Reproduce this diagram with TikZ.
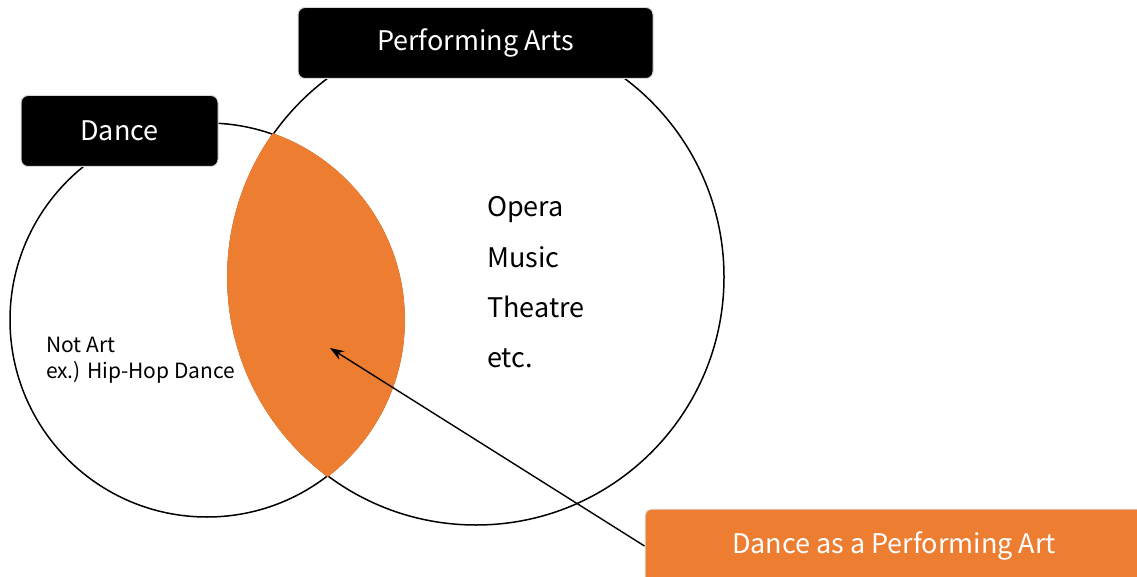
\documentclass[tikz,border=0pt]{standalone}
\usepackage{fontspec}
\setmainfont{Noto Sans CJK KR}
\usetikzlibrary{arrows.meta}
\definecolor{accent}{HTML}{ED7D31}
\begin{document}
\begin{tikzpicture}[x=1pt,y=-1pt,
  ring/.style={draw=black,line width=1.5pt},
  label box/.style={fill=black,draw=black!15,line width=1pt,rounded corners=7pt,
    text=white,font=\fontsize{27}{32}\selectfont,inner sep=0pt},
  plain/.style={font=\fontsize{21}{25}\selectfont,inner sep=0pt,anchor=base west},
  listtext/.style={font=\fontsize{27}{32}\selectfont,inner sep=0pt,anchor=base west}]
\useasboundingbox (0,0) rectangle (1137,577);
\clip (0,0) rectangle (1137,577);

% the two sets
\draw[ring] (207,320) circle[radius=197];
\draw[ring] (476,277) circle[radius=248];

% their overlap
\begin{scope}
  \clip (207,320) circle[radius=198];
  \fill[accent] (476,277) circle[radius=249];
\end{scope}

% set titles
\node[label box,minimum width=355,minimum height=71] (arts) at (475.5,43) {Performing Arts};
\node[label box,minimum width=197,minimum height=71] (dance) at (119.5,131) {Dance};

% contents of the sets
\node[plain] (notart) at (46,352) {Not Art};
\node[plain] (hiphop) at (46,378) {ex.) Hip-Hop Dance};
\node[listtext] (opera) at (487,217) {Opera};
\node[listtext] (music) at (487,267) {Music};
\node[listtext] (theatre) at (487,317) {Theatre};
\node[listtext] (etc) at (487,367) {etc.};

% callout for the overlap
\node[fill=accent,draw=black!10,line width=1pt,rounded corners=7pt,text=white,
  font=\fontsize{27}{32}\selectfont,inner sep=0pt,
  minimum width=498,minimum height=74] (both) at (894,546) {Dance as a Performing Art};
\coordinate (tip) at (330,348);
\draw[line width=1.4pt,-{Stealth[length=14pt,width=10pt]}] (both.west) -- (tip);
\end{tikzpicture}
\end{document}
